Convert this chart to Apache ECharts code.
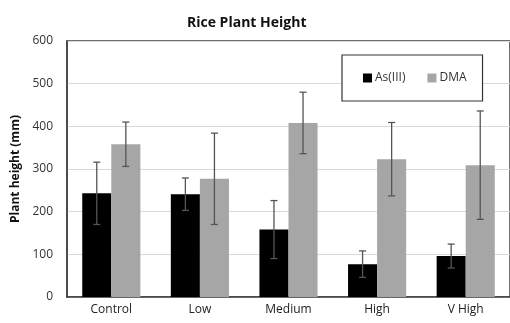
<!DOCTYPE html>
<html><head><meta charset="utf-8">
<script src="https://cdn.jsdelivr.net/npm/echarts@6/dist/echarts.min.js"></script>
<style>html,body{margin:0;padding:0;background:#fff}#c{width:510px;height:323px}</style>
</head><body><div id="c"></div>
<script>
const categories = ['Control', 'Low', 'Medium', 'High', 'V High'];
const asIII = [243, 241, 158, 77, 96];
const asIIIErr = [73, 38, 68, 31, 28];
const dma = [358, 277, 408, 323, 309];
const dmaErr = [52, 107, 72, 86, 127];
const yTicks = [0, 100, 200, 300, 400, 500, 600];

const FONT = '"Open Sans", sans-serif';
const catGap = 0.344;
const half = (1 - catGap) / 2;

function errSeries(vals, errs, sign) {
  return {
    type: 'custom',
    z: 5,
    silent: true,
    data: vals.map((v, i) => [i, v - errs[i], v + errs[i]]),
    renderItem: function (params, api) {
      const band = api.size([1, 0])[0];
      const off = sign * band * half / 2;
      const lo = api.coord([api.value(0), api.value(1)]);
      const hi = api.coord([api.value(0), api.value(2)]);
      const x = lo[0] + off;
      const cap = 3.5;
      const style = { stroke: '#555', lineWidth: 1.3 };
      return {
        type: 'group',
        children: [
          { type: 'line', shape: { x1: x, y1: lo[1], x2: x, y2: hi[1] }, style: style },
          { type: 'line', shape: { x1: x - cap, y1: lo[1], x2: x + cap, y2: lo[1] }, style: style },
          { type: 'line', shape: { x1: x - cap, y1: hi[1], x2: x + cap, y2: hi[1] }, style: style }
        ]
      };
    }
  };
}

const chart = echarts.init(document.getElementById('c'), null, { renderer: 'canvas' });
chart.setOption({
  animation: false,
  backgroundColor: '#fff',
  title: {
    text: 'Rice Plant Height',
    left: 182, top: 11,
    textStyle: { fontFamily: FONT, fontSize: 14, fontWeight: 'bold', color: '#111' }
  },
  legend: {
    data: [
      { name: 'As(III)', itemStyle: { color: '#000' } },
      { name: 'DMA', itemStyle: { color: '#a6a6a6' } }
    ],
    left: 342, top: 55,
    orient: 'horizontal',
    icon: 'rect',
    itemWidth: 9, itemHeight: 9, itemGap: 22,
    padding: [17, 16, 17, 21],
    borderColor: '#333', borderWidth: 1.2,
    backgroundColor: '#fff',
    textStyle: { fontFamily: FONT, fontSize: 12, color: '#333', padding: [0, 0, 0, -2] }
  },
  grid: {
    left: 67, top: 41, width: 450, height: 256,
    show: true, borderColor: '#404040', borderWidth: 1.5, backgroundColor: 'transparent'
  },
  xAxis: {
    type: 'category',
    data: categories,
    axisLine: { lineStyle: { color: '#404040', width: 1.5 } },
    axisTick: { show: false },
    axisLabel: { fontFamily: FONT, fontSize: 12, color: '#222', margin: 7 }
  },
  yAxis: {
    type: 'value',
    min: yTicks[0], max: yTicks[yTicks.length - 1], interval: 100,
    name: 'Plant height (mm)',
    nameLocation: 'middle',
    nameGap: 44,
    nameTextStyle: { fontFamily: FONT, fontSize: 12, fontWeight: 'bold', color: '#111' },
    axisLine: { show: true, lineStyle: { color: '#404040', width: 1.5 } },
    axisTick: { show: false },
    axisLabel: { fontFamily: FONT, fontSize: 12, color: '#333', margin: 14 },
    splitLine: { lineStyle: { color: '#d9d9d9', width: 1 } }
  },
  series: [
    { name: 'As(III)', type: 'bar', data: asIII, barGap: 0, barCategoryGap: (catGap * 100) + '%',
      itemStyle: { color: '#000' } },
    { name: 'DMA', type: 'bar', data: dma, barGap: 0, barCategoryGap: (catGap * 100) + '%',
      itemStyle: { color: '#a6a6a6' } },
    errSeries(asIII, asIIIErr, -1),
    errSeries(dma, dmaErr, 1)
  ]
});
</script></body></html>
